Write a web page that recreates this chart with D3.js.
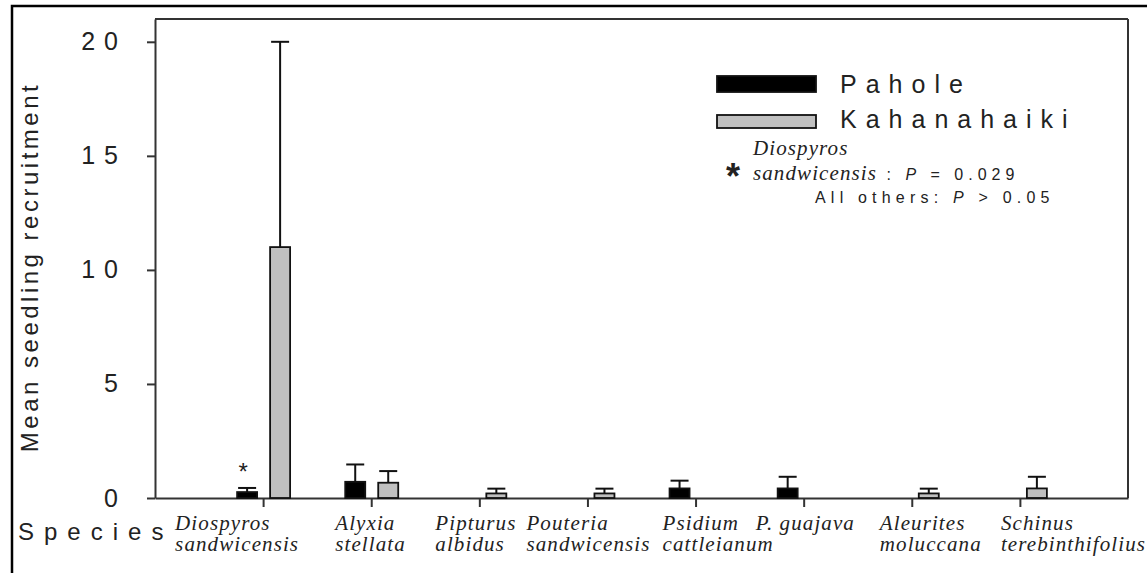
<!DOCTYPE html>
<html>
<head>
<meta charset="utf-8">
<script src="https://cdn.jsdelivr.net/npm/d3@7"></script>
<style>
  html, body { margin: 0; padding: 0; background: #fff; }
  svg { display: block; }
</style>
</head>
<body>
<svg id="chart" width="1147" height="573"></svg>
<script>
// ---------- DATA ----------
const species = [
  ["Diospyros", "sandwicensis"],
  ["Alyxia", "stellata"],
  ["Pipturus", "albidus"],
  ["Pouteria", "sandwicensis"],
  ["Psidium", "cattleianum"],
  ["P. guajava"],
  ["Aleurites", "moluccana"],
  ["Schinus", "terebinthifolius"]
];
const seriesNames = ["Pahole", "Kahanahaiki"];
const paholeMean = [0.26, 0.71, 0, 0, 0.42, 0.42, 0, 0];
const paholeSE   = [0.18, 0.76, 0, 0, 0.34, 0.51, 0, 0];
const kahanaMean = [11.0, 0.67, 0.2, 0.2, 0, 0, 0.2, 0.42];
const kahanaSE   = [9.0, 0.51, 0.21, 0.21, 0, 0, 0.21, 0.51];
const yTicks = [0, 5, 10, 15, 20];
const significant = [true, false, false, false, false, false, false, false];

// ---------- LAYOUT ----------
const plot = { left: 155, right: 1128, top: 19, bottom: 498 };
const labelDx = [-88, -36, -44, -61, -33, -48, -32, -19];
const colors = ["#000000", "#c0c0c0"];
const barW = 20;
const barOff = [-26, 7];
const serif = "'Liberation Serif', 'Times New Roman', serif";
const sans = "'Liberation Sans', Arial, sans-serif";

const svg = d3.select("#chart");

// outer frame
svg.append("rect").attr("x", 12).attr("y", 6).attr("width", 1150).attr("height", 580)
  .attr("fill", "none").attr("stroke", "#000").attr("stroke-width", 2.5);

const x = d3.scaleLinear().domain([0, species.length + 1]).range([plot.left, plot.right]);
const y = d3.scaleLinear().domain([0, 21]).range([plot.bottom, plot.top]);

const axisColor = "#333";

// plot box top & right
svg.append("line").attr("x1", plot.left).attr("x2", plot.right).attr("y1", plot.top).attr("y2", plot.top)
  .attr("stroke", axisColor).attr("stroke-width", 2);
svg.append("line").attr("x1", plot.right).attr("x2", plot.right).attr("y1", plot.top).attr("y2", plot.bottom)
  .attr("stroke", axisColor).attr("stroke-width", 2);

// y axis
const yAxis = svg.append("g").attr("transform", `translate(${plot.left},0)`)
  .call(d3.axisLeft(y).tickValues(yTicks).tickSize(8).tickPadding(10).tickSizeOuter(0));
yAxis.select(".domain").attr("stroke", axisColor).attr("stroke-width", 2);
yAxis.selectAll(".tick line").attr("stroke", axisColor).attr("stroke-width", 2);
yAxis.selectAll(".tick text")
  .attr("font-family", sans)
  .attr("font-size", 25).attr("fill", "#222")
  .attr("letter-spacing", 9).attr("dx", -10);

// x axis
const xAxis = svg.append("g").attr("transform", `translate(0,${plot.bottom})`)
  .call(d3.axisBottom(x).tickValues(d3.range(1, species.length + 1)).tickSize(9).tickFormat("").tickSizeOuter(0));
xAxis.select(".domain").attr("stroke", axisColor).attr("stroke-width", 2);
xAxis.selectAll(".tick line").attr("stroke", axisColor).attr("stroke-width", 2);

// bars
const seriesData = [
  { name: seriesNames[0], mean: paholeMean, se: paholeSE },
  { name: seriesNames[1], mean: kahanaMean, se: kahanaSE }
];
seriesData.forEach((s, si) => {
  const pts = s.mean.map((m, i) => ({ i, m, se: s.se[i] })).filter(d => d.m > 0);
  const g = svg.append("g");
  g.selectAll("line.err").data(pts).join("line")
    .attr("x1", d => x(d.i + 1) + barOff[si] + barW / 2)
    .attr("x2", d => x(d.i + 1) + barOff[si] + barW / 2)
    .attr("y1", d => y(d.m)).attr("y2", d => y(d.m + d.se))
    .attr("stroke", "#111").attr("stroke-width", 2);
  g.selectAll("line.cap").data(pts).join("line")
    .attr("x1", d => x(d.i + 1) + barOff[si] + 1)
    .attr("x2", d => x(d.i + 1) + barOff[si] + barW - 1)
    .attr("y1", d => y(d.m + d.se)).attr("y2", d => y(d.m + d.se))
    .attr("stroke", "#111").attr("stroke-width", 2);
  g.selectAll("rect").data(pts).join("rect")
    .attr("x", d => x(d.i + 1) + barOff[si])
    .attr("width", barW)
    .attr("y", d => y(d.m))
    .attr("height", d => y(0) - y(d.m))
    .attr("fill", colors[si]).attr("stroke", "#111").attr("stroke-width", 1.8);
});

// significance asterisk over bars
svg.append("g").selectAll("text").data(species.map((s, i) => ({ i, sig: significant[i] })).filter(d => d.sig))
  .join("text")
  .attr("x", d => x(d.i + 1) + barOff[0] + barW / 2 - 4)
  .attr("y", d => y(paholeMean[d.i] + paholeSE[d.i]) - 8)
  .attr("text-anchor", "middle")
  .attr("font-family", sans)
  .attr("font-size", 24).attr("fill", "#222")
  .text("*");

// x tick labels
const xl = svg.append("g").attr("font-family", serif)
  .attr("font-style", "italic").attr("font-size", 21).attr("fill", "#222").attr("letter-spacing", 1.1);
species.forEach((lines, i) => {
  lines.forEach((t, li) => {
    xl.append("text").attr("x", x(i + 1) + labelDx[i]).attr("y", 530 + li * 21).text(t);
  });
});

// axis titles
svg.append("text").attr("x", 18).attr("y", 540)
  .attr("font-family", sans).attr("font-size", 24)
  .attr("letter-spacing", 10).attr("fill", "#222").text("Species");

svg.append("text")
  .attr("transform", "translate(38,267) rotate(-90)")
  .attr("text-anchor", "middle")
  .attr("font-family", sans).attr("font-size", 24)
  .attr("letter-spacing", 3.5).attr("fill", "#222").text("Mean seedling recruitment");

// legend
const lg = svg.append("g");
seriesNames.forEach((n, i) => {
  const yy = i === 0 ? 76 : 115;
  lg.append("rect").attr("x", 717).attr("y", yy).attr("width", 99).attr("height", i === 0 ? 16 : 13)
    .attr("fill", colors[i]).attr("stroke", "#111").attr("stroke-width", 1.8);
  lg.append("text").attr("x", 840).attr("y", i === 0 ? 93 : 128)
    .attr("font-family", sans).attr("font-size", 25)
    .attr("letter-spacing", 9).attr("fill", "#222").text(n);
});
lg.append("text").attr("x", 733).attr("y", 189).attr("text-anchor", "middle")
  .attr("font-family", sans).attr("font-size", 36).attr("font-weight", "bold")
  .attr("fill", "#222").text("*");
lg.append("text").attr("x", 753).attr("y", 155).attr("font-family", serif).attr("font-style", "italic")
  .attr("font-size", 21).attr("letter-spacing", 1.1).attr("fill", "#222").text("Diospyros");
const l2 = lg.append("text").attr("x", 753).attr("y", 180).attr("fill", "#222");
l2.append("tspan").attr("font-family", serif).attr("font-style", "italic").attr("font-size", 21)
  .attr("letter-spacing", 1.1).text("sandwicensis");
l2.append("tspan").attr("font-family", sans).attr("font-size", 16).attr("letter-spacing", 5).text(" : ");
l2.append("tspan").attr("font-family", sans).attr("font-size", 16).attr("font-style", "italic").attr("letter-spacing", 5).text("P");
l2.append("tspan").attr("font-family", sans).attr("font-size", 16).attr("letter-spacing", 5).text(" = 0.029");
const l3 = lg.append("text").attr("x", 815).attr("y", 203).attr("fill", "#222")
  .attr("font-family", sans).attr("font-size", 16).attr("letter-spacing", 5.2);
l3.append("tspan").text("All others: ");
l3.append("tspan").attr("font-style", "italic").text("P");
l3.append("tspan").text(" > 0.05");
</script>
</body>
</html>
